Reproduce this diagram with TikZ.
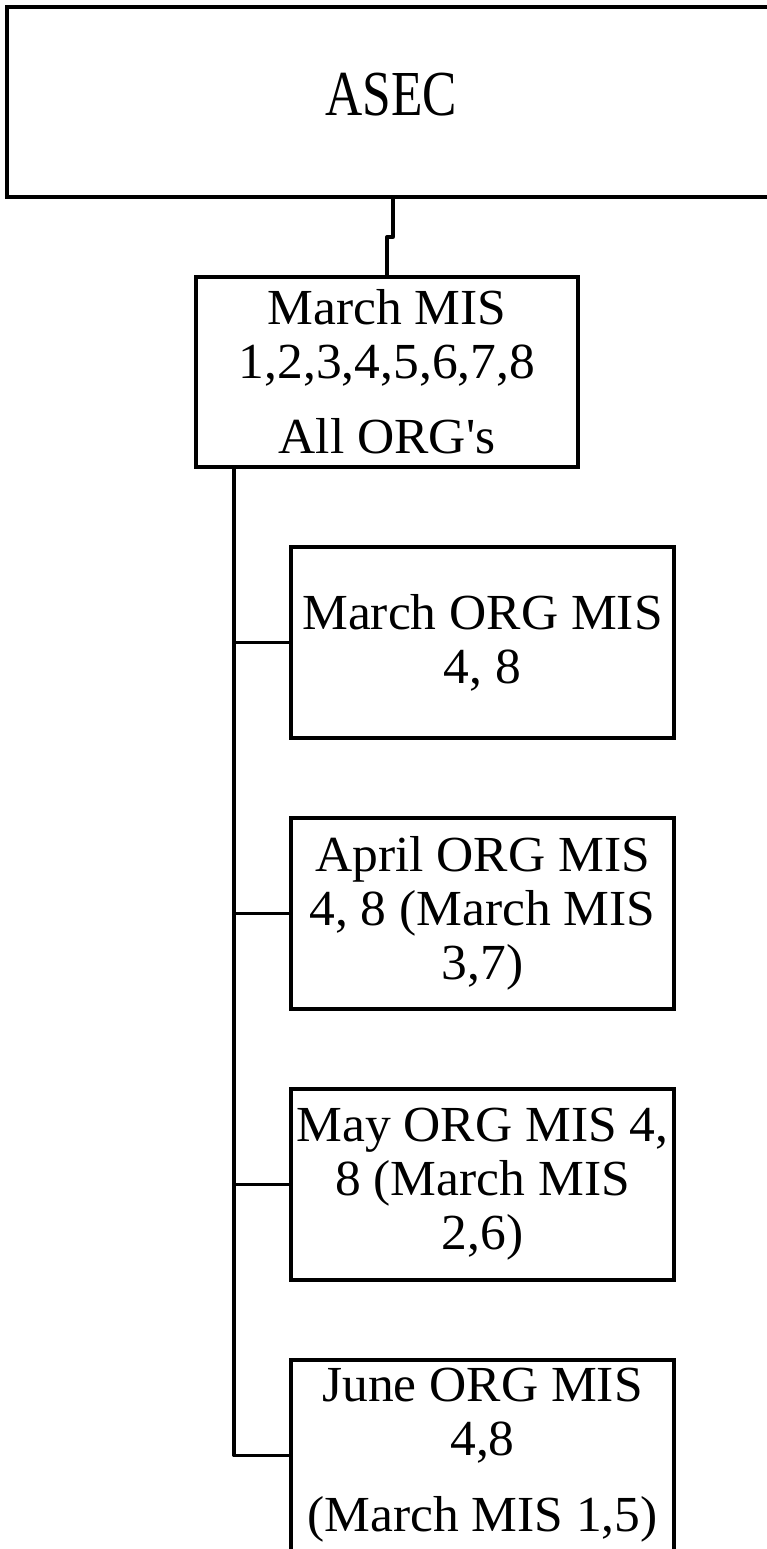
\documentclass[tikz,border=0pt]{standalone}
\usepackage{fontspec}
\usepackage{graphicx}
\setmainfont{Liberation Serif}[FakeStretch=1.02]
\newcommand\vstretch[2]{\scalebox{1}[#1]{\begin{tabular}{@{}c@{}}#2\end{tabular}}}
\begin{document}
\begin{tikzpicture}[x=1pt,y=-1pt,
  box/.style={draw=black, line width=3.3pt, rectangle, inner sep=0pt, align=center,
    font={\fontsize{50.5}{54}\selectfont}, text=black},
  orgbox/.style={box, minimum width=383pt, minimum height=191pt},
  link/.style={draw=black, line width=3.3pt, line join=round}]
\useasboundingbox (0,0) rectangle (767,1549);
\clip (0,0) rectangle (767,1549);
\node[box, minimum width=768pt, minimum height=190pt] (asec) at (391,102) {\vstretch{1.27}{ASEC}};
\node[box, minimum width=382pt, minimum height=190pt] (mm) at (387,372)
  {March MIS\\1,2,3,4,5,6,7,8\\[21pt]All ORG\textquotesingle s};
\node[orgbox] (b1) at (482.5,642.5) {March ORG MIS\\4, 8};
\node[orgbox] (b2) at (482.5,913.5) {April ORG MIS\\4, 8 (March MIS\\3,7)};
\node[orgbox] (b3) at (482.5,1184.5) {May ORG MIS 4,\\8 (March MIS\\2,6)};
\node[orgbox] (b4) at (482.5,1455.5) {\raisebox{-5pt}{\begin{tabular}{@{}c@{}}June ORG MIS\\4,8\\[22pt](March MIS 1,5)\end{tabular}}};
\coordinate (j1) at (393,237);
\coordinate (j2) at (387,237);
\coordinate (trunk) at (234,467);
\draw[link] (asec.south -| j1) -- (j1) -- (j2) -- (j2 |- mm.north);
\draw[link] (trunk) |- (b4.west);
\draw[link] (b1.west) -- (b1.west -| trunk);
\draw[link] (b2.west) -- (b2.west -| trunk);
\draw[link] (b3.west) -- (b3.west -| trunk);
\end{tikzpicture}
\end{document}
